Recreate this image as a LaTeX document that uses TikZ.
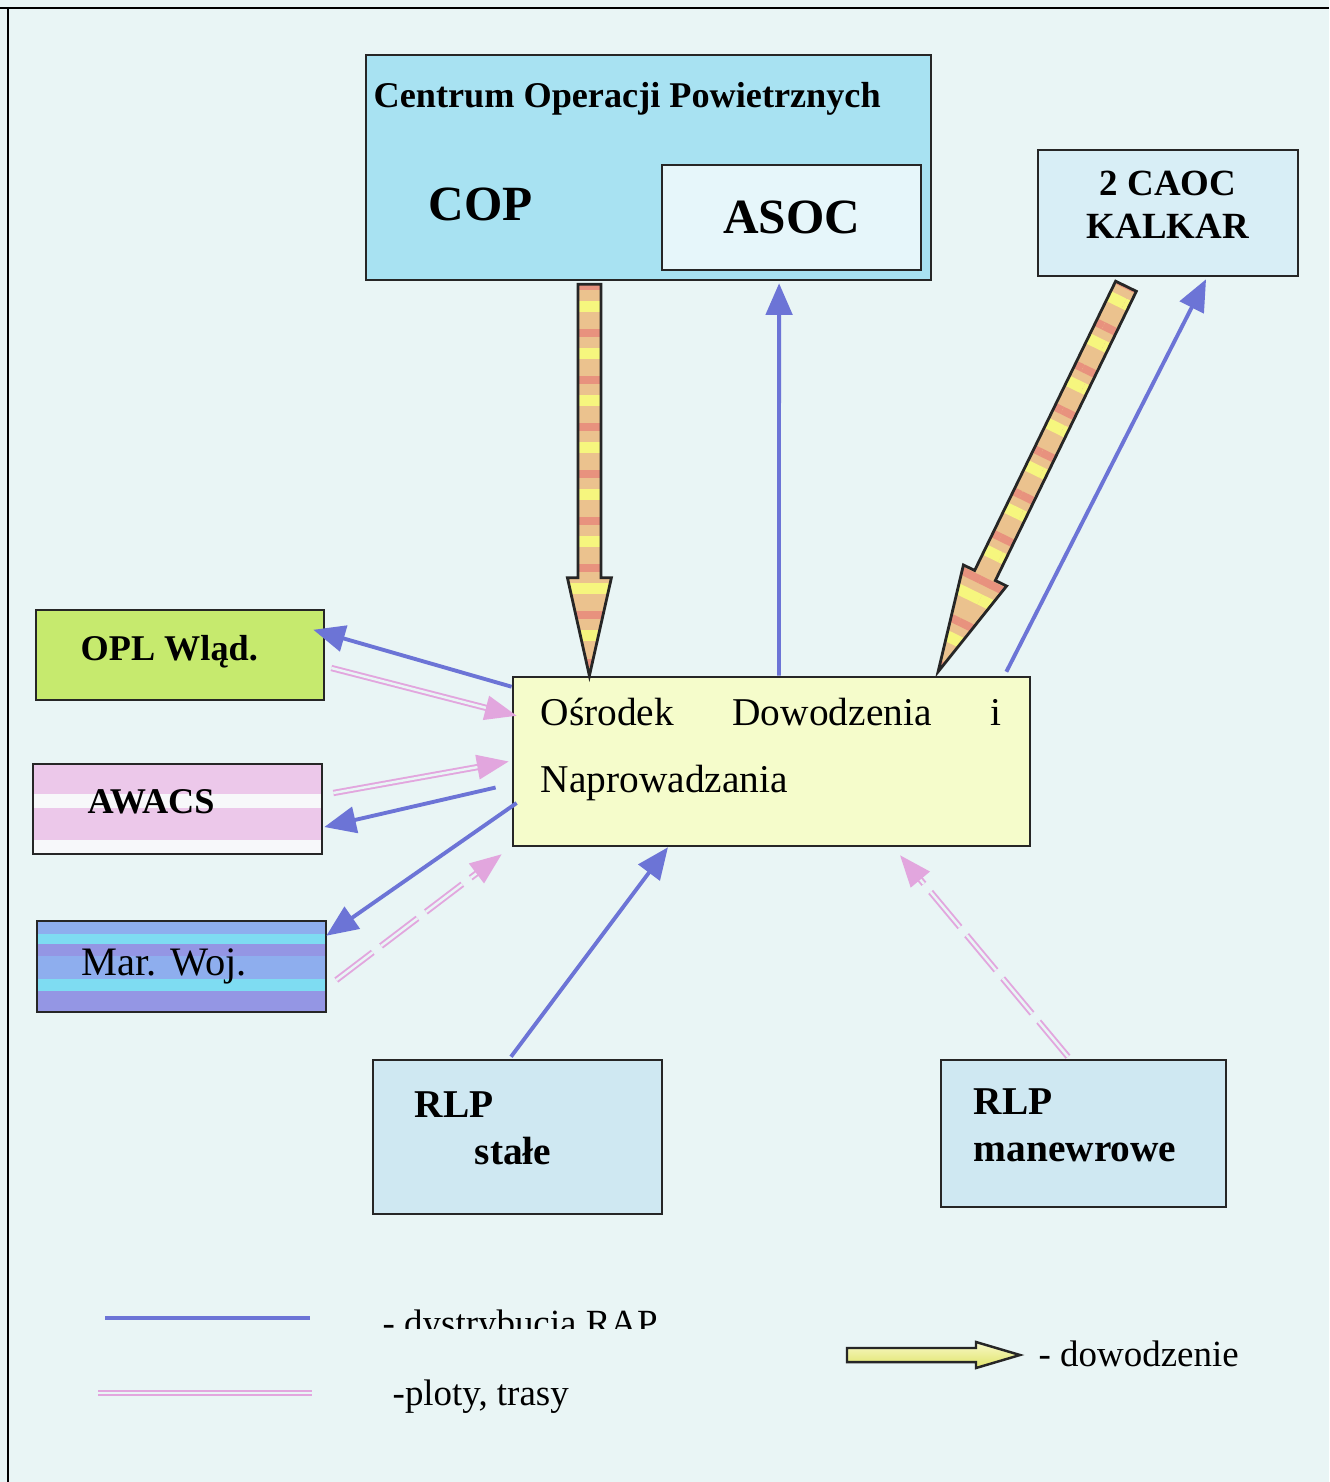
\documentclass[tikz,border=0pt]{standalone}
\usepackage{fontspec}
\setmainfont{Liberation Serif}
\usetikzlibrary{arrows.meta,calc,patterns.meta,positioning}

\definecolor{bgc}{HTML}{E9F5F5}
\definecolor{copc}{HTML}{A8E2F2}
\definecolor{asocc}{HTML}{E6F6FA}
\definecolor{caocc}{HTML}{D8EEF6}
\definecolor{oplc}{HTML}{C6EA6E}
\definecolor{awpink}{HTML}{ECC8EA}
\definecolor{awwhite}{HTML}{F7F8FA}
\definecolor{marblue}{HTML}{8EAEEE}
\definecolor{marcyan}{HTML}{7EDCF2}
\definecolor{marperi}{HTML}{9496E4}
\definecolor{odnc}{HTML}{F5FCCB}
\definecolor{rlpc}{HTML}{CFE8F2}
\definecolor{rapc}{HTML}{6C74D6}
\definecolor{plotc}{HTML}{E2A6DE}
\definecolor{tanc}{HTML}{EBC28E}
\definecolor{yelc}{HTML}{F6F67E}
\definecolor{salc}{HTML}{E8927E}
\definecolor{legl}{HTML}{F8F8C8}
\definecolor{legd}{HTML}{E0E468}

\newcommand{\fntTitle}{\fontsize{10.3}{12}\selectfont\bfseries}
\newcommand{\fntBig}{\fontsize{14}{16}\selectfont\bfseries}
\newcommand{\fntBox}{\fontsize{10.3}{12}\selectfont\bfseries}
\newcommand{\fntOdn}{\fontsize{11.2}{13}\selectfont}
\newcommand{\fntRlp}{\fontsize{11.2}{13}\selectfont\bfseries}
\newcommand{\fntLeg}{\fontsize{10.5}{12}\selectfont}

% block arrow: style, start, end, shaft half width, head half width, head length
\newcommand{\blockarrow}[6]{%
  \coordinate (hb) at ($(#3)!#6!(#2)$);
  \draw[#1] ($(#2)!#4!90:(#3)$) -- ($(hb)!#4!90:(#3)$) -- ($(hb)!#5!90:(#3)$) -- (#3)
    -- ($(hb)!#5!-90:(#3)$) -- ($(hb)!#4!-90:(#3)$) -- ($(#2)!#4!-90:(#3)$) -- cycle;
}

\tikzset{
  box/.style={draw=black!85, line width=0.7pt, inner sep=0pt},
  lbl/.style={anchor=base west, inner sep=0pt},
  rap/.style={draw=rapc, line width=1.1pt, -{Triangle[length=9pt,width=7.5pt]}},
  plot/.style={draw=plotc, line width=0.55pt, double=bgc, double distance=0.7pt,
    -{Triangle[length=9pt,width=7pt,fill=plotc]}},
  plotdash/.style={dash pattern=on 13pt off 3pt},
  cmd/.style={draw=black!85, line width=0.8pt, line join=miter,
    preaction={fill=tanc},
    preaction={pattern={Lines[angle=#1,distance=0.47cm,line width=0.11cm]}, pattern color=yelc},
    preaction={pattern={Lines[angle=#1,distance=0.47cm,line width=0.08cm,yshift=0.2cm]}, pattern color=salc}},
  legcmd/.style={draw=black!85, line width=0.7pt, top color=legl, bottom color=legd},
  awstripes/.style={path picture={
    \fill[awpink] (path picture bounding box.north west) rectangle ([yshift=-0.30cm]path picture bounding box.north east);
    \fill[awpink] ([yshift=-0.44cm]path picture bounding box.north west) rectangle ([yshift=-0.76cm]path picture bounding box.north east);}},
  marstripes/.style={path picture={
    \fill[marcyan] ([yshift=-0.13cm]path picture bounding box.north west) rectangle ([yshift=-0.23cm]path picture bounding box.north east);
    \fill[marperi] ([yshift=-0.23cm]path picture bounding box.north west) rectangle ([yshift=-0.35cm]path picture bounding box.north east);
    \fill[marcyan] ([yshift=-0.58cm]path picture bounding box.north west) rectangle ([yshift=-0.70cm]path picture bounding box.north east);
    \fill[marperi] ([yshift=-0.70cm]path picture bounding box.north west) rectangle (path picture bounding box.south east);}},
}

\begin{document}
\begin{tikzpicture}[x=0.01cm, y=-0.01cm]
\useasboundingbox (0,0) rectangle (1329,1482);
\fill[bgc] (0,0) rectangle (1329,1482);
\draw[line width=0.6pt] (0,8) -- (1329,8);
\draw[line width=0.6pt] (8,8) -- (8,1482);

% boxes
\node[box, fill=copc, minimum width=5.65cm, minimum height=2.25cm] (cop) at (648.5,167.5) {};
\node[lbl, font=\fntTitle] (coptitle) at (373,108) {Centrum Operacji Powietrznych};
\node[lbl, font=\fntBig] (coplbl) at (428,220) {COP};
\node[box, fill=asocc, minimum width=2.59cm, minimum height=1.05cm, font=\fntBig] (asoc) at (791.5,217.5) {ASOC};
\node[box, fill=caocc, minimum width=2.60cm, minimum height=1.26cm] (caoc) at (1168,213) {};
\node[align=center, inner sep=0pt, font=\fontsize{10.5}{12.2}\selectfont\bfseries] (caoclbl) at (1168,205) {2 CAOC\\KALKAR};

\node[box, fill=oplc, minimum width=2.88cm, minimum height=0.90cm] (opl) at (180,655) {};
\node[lbl, font=\fntBox] (opllbl) at (80,660) {OPL Wląd.};
\node[box, fill=awwhite, awstripes, minimum width=2.89cm, minimum height=0.90cm] (awacs) at (177.5,809) {};
\node[lbl, font=\fntBox] (awacslbl) at (87,813) {AWACS};
\node[box, fill=marblue, marstripes, minimum width=2.89cm, minimum height=0.91cm] (marwoj) at (181.5,966.5) {};
\node[lbl, font=\fontsize{11.5}{13}\selectfont] (marwojlbl) at (81,975) {Mar. Woj.};

\node[box, fill=odnc, minimum width=5.17cm, minimum height=1.69cm] (odn) at (771.5,761.5) {};
\node[lbl, font=\fntOdn] (odnlbl1) at (540,725) {\hbox to 4.6cm{Ośrodek\hfill Dowodzenia\hfill i}};
\node[lbl, font=\fntOdn] (odnlbl2) at (540,792) {Naprowadzania};

\node[box, fill=rlpc, minimum width=2.89cm, minimum height=1.54cm] (rlps) at (517.5,1137) {};
\node[lbl, font=\fntRlp] (rlpslbl1) at (414,1117) {RLP};
\node[lbl, font=\fntRlp] (rlpslbl2) at (474,1164) {stałe};
\node[box, fill=rlpc, minimum width=2.85cm, minimum height=1.47cm] (rlpm) at (1083.5,1133.5) {};
\node[lbl, font=\fntRlp] (rlpmlbl1) at (973,1114) {RLP};
\node[lbl, font=\fntRlp] (rlpmlbl2) at (973,1161) {manewrowe};

% dowodzenie
\coordinate (c1s) at ([xshift=-0.59cm,yshift=-0.03cm]cop.south);
\coordinate (c1e) at ([xshift=-1.82cm]odn.north);
\blockarrow{cmd=0}{c1s}{c1e}{0.115cm}{0.22cm}{0.98cm}
\coordinate (c2s) at ([xshift=-0.42cm,yshift=-0.09cm]caoc.south);
\coordinate (c2e) at ([xshift=1.665cm,yshift=0.04cm]odn.north);
\blockarrow{cmd=-26}{c2s}{c2e}{0.115cm}{0.24cm}{1.07cm}

% dystrybucja RAP
\draw[rap] ([xshift=0.075cm]odn.north) -- ([xshift=1.305cm,yshift=-0.02cm]cop.south);
\draw[rap] ([xshift=-0.25cm,yshift=0.04cm]odn.north east) -- ([xshift=0.38cm,yshift=-0.02cm]caoc.south);
\draw[rap] ([yshift=-0.11cm]odn.north west) -- ([xshift=-0.12cm,yshift=-0.21cm]opl.north east);
\draw[rap] ([xshift=-0.16cm,yshift=-0.26cm]odn.west) -- ([xshift=0.01cm,yshift=-0.18cm]awacs.east);
\draw[rap] ([xshift=0.05cm,yshift=-0.415cm]odn.west) -- ([xshift=-0.01cm,yshift=-0.16cm]marwoj.north east);
\draw[rap] ([xshift=-0.065cm,yshift=0.02cm]rlps.north) -- ([xshift=-1.035cm]odn.south);

% ploty, trasy
\draw[plot] ([xshift=0.06cm,yshift=-0.13cm]opl.east) -- ([xshift=0.05cm,yshift=-0.4cm]odn.north west);
\draw[plot] ([xshift=0.1cm,yshift=0.16cm]awacs.east) -- ([xshift=-0.03cm]odn.west);
\draw[plot, plotdash] ([xshift=0.09cm,yshift=-0.135cm]marwoj.east) -- ([xshift=-0.1cm,yshift=-0.07cm]odn.south west);
\draw[plot, plotdash] ([xshift=-0.155cm,yshift=0.02cm]rlpm.north) -- ([xshift=1.285cm,yshift=-0.08cm]odn.south);

% legenda
\coordinate (lrapa) at (105,1318);
\coordinate (lrapb) at (310,1318);
\draw[rap, -] (lrapa) -- (lrapb);
\coordinate (lplota) at (98,1393);
\coordinate (lplotb) at (312,1393);
\draw[plot, -] (lplota) -- (lplotb);
\coordinate (lcmda) at (847,1355);
\coordinate (lcmdb) at (1020,1355);
\blockarrow{legcmd}{lcmda}{lcmdb}{0.07cm}{0.13cm}{0.44cm}

\begin{scope}
\clip (300,1290) rectangle (760,1328);
\node[lbl, font=\fntLeg] (lraplbl) at (382,1335) {- dystrybucja RAP};
\end{scope}
\node[lbl, font=\fntLeg] (lplotlbl) at (392,1405) {-ploty, trasy};
\node[lbl, font=\fntLeg] (lcmdlbl) at (1038,1366) {- dowodzenie};
\end{tikzpicture}
\end{document}
